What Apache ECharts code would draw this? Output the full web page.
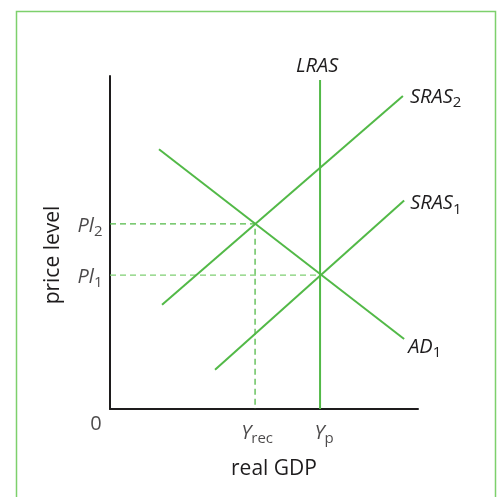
<!DOCTYPE html>
<html><head><meta charset="utf-8">
<script src="https://cdn.jsdelivr.net/npm/echarts@6/dist/echarts.min.js"></script>
<style>html,body{margin:0;padding:0;background:#fff}#c{width:497px;height:497px}</style>
</head><body><div id="c"></div>
<script>
// Curve endpoints (economic units, axes 0..10)
const adX = [1.59, 9.55], adY = [7.80, 2.10];
const sras1X = [3.41, 9.55], sras1Y = [1.18, 6.26];
const sras2X = [1.69, 9.51], sras2Y = [3.13, 9.40];
const lrasX = [6.82, 6.82], lrasY = [0, 9.88];
const yRec = 4.71, yP = 6.82;
const pl1 = 4.02, pl2 = 5.56;
const curveLabels = ['{i|AD}{s|1}', '{i|SRAS}{s|1}', '{i|SRAS}{s|2}', '{i|LRAS}'];
const tickLabels = ['{i|Pl}{s|1}', '{i|Pl}{s|2}', '{i|Y}{s|rec}', '{i|Y}{s|p}', '0'];
const axisNames = ['real GDP', 'price level'];

const GREEN = '#52b947', TXT = '#1e1c1d', FONT = '"Open Sans", "Noto Sans", sans-serif';
const rich = {
  i: {fontFamily: FONT, fontStyle: 'italic', fontSize: 20, color: TXT},
  s: {fontFamily: FONT, fontSize: 15, color: TXT, padding: [12, 0, 0, 0]}
};
const pts = (xs, ys) => xs.map((x, k) => [x, ys[k]]);

function lineSeries(data, lab, pos, offset, dashed, color) {
  return {
    type: 'line', data: data.map((d, k) => {
      const item = {value: d};
      if (lab && k === data.length - 1) {
        item.label = {show: true, position: pos, offset: offset || [0, 0], formatter: lab, rich: rich, distance: 6};
      }
      return item;
    }),
    symbol: 'circle', symbolSize: 0.01, showSymbol: true,
    itemStyle: {color: 'transparent'},
    label: {show: false},
    lineStyle: {color: color || GREEN, width: dashed ? 1.3 : 2, type: dashed ? [6, 4] : 'solid'},
    animation: false, silent: true, z: dashed ? 2 : 3
  };
}
function labelPoint(x, y, lab, pos, offset) {
  return {type: 'scatter', data: [[x, y]], symbolSize: 1, itemStyle: {color: 'transparent'},
    label: {show: true, position: pos, offset: offset || [0, 0], formatter: lab, rich: rich,
      fontFamily: FONT, fontSize: 20, color: TXT, distance: 6}, animation: false, silent: true};
}

const chart = echarts.init(document.getElementById('c'), null, {renderer: 'canvas'});
chart.setOption({
  backgroundColor: '#fff',
  animation: false,
  grid: {left: 110, right: 79, top: 76, bottom: 88, outerBoundsMode: 'none', containLabel: false},
  xAxis: {type: 'value', min: 0, max: 10, splitLine: {show: false}, axisTick: {show: false}, axisLabel: {show: false},
    axisLine: {lineStyle: {color: TXT, width: 2}},
    name: axisNames[0], nameLocation: 'middle', nameGap: 50,
    nameTextStyle: {fontFamily: FONT, fontSize: 21, color: TXT, padding: [0, 0, 0, 20]}},
  yAxis: {type: 'value', min: 0, max: 10, splitLine: {show: false}, axisTick: {show: false}, axisLabel: {show: false},
    axisLine: {lineStyle: {color: TXT, width: 2}},
    name: axisNames[1], nameLocation: 'middle', nameGap: 46,
    nameTextStyle: {fontFamily: FONT, fontSize: 21, color: TXT, padding: [0, 25, 0, 0]}},
  graphic: [{type: 'rect', shape: {x: 16.5, y: 11.5, width: 479, height: 500},
    style: {fill: 'none', stroke: '#7dd06c', lineWidth: 1.5}, silent: true}],
  series: [
    lineSeries([[0, pl2], [yRec, pl2], [yRec, 0]], null, null, null, true),
    lineSeries([[0, pl1], [yP, pl1]], null, null, null, true, '#7fcf73'),
    lineSeries(pts(adX, adY), curveLabels[0], 'right', [-2, 8]),
    lineSeries(pts(sras1X, sras1Y), curveLabels[1], 'right', [0, 3]),
    lineSeries(pts(sras2X, sras2Y), curveLabels[2], 'right', [1, 1]),
    lineSeries(pts(lrasX, lrasY), curveLabels[3], 'top', [-3, 2]),
    labelPoint(0, pl1, tickLabels[0], 'left', [-1, 2]),
    labelPoint(0, pl2, tickLabels[1], 'left', [-1, 2]),
    labelPoint(yRec, 0, tickLabels[2], 'bottom', [2, 4]),
    labelPoint(yP, 0, tickLabels[3], 'bottom', [4, 4]),
    labelPoint(0, 0, tickLabels[4], 'bottom', [-14, -1])
  ]
});
</script></body></html>
